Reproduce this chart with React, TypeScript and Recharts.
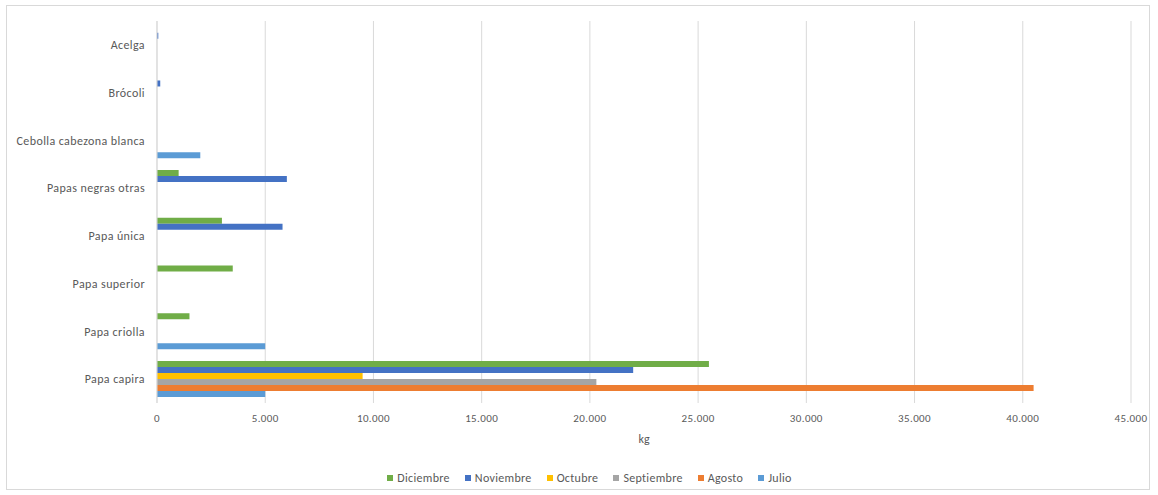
import React from 'react';
import { BarChart, Bar, XAxis, YAxis, CartesianGrid, Legend } from 'recharts';

const categories = [
  'Acelga',
  'Brócoli',
  'Cebolla cabezona blanca',
  'Papas negras otras',
  'Papa única',
  'Papa superior',
  'Papa criolla',
  'Papa capira',
];
const julio = [null, null, 2000, null, null, null, 5000, 5000];
const agosto = [null, null, null, null, null, null, null, 40500];
const septiembre = [null, null, null, null, null, null, null, 20300];
const octubre = [null, null, null, null, null, null, null, 9500];
const noviembre = [60, 150, null, 6000, 5800, null, null, 22000];
const diciembre = [null, null, null, 1000, 3000, 3500, 1500, 25500];
const xTicks = [0, 5000, 10000, 15000, 20000, 25000, 30000, 35000, 40000, 45000];

const series = [
  { key: 'Diciembre', color: '#70AD47' },
  { key: 'Noviembre', color: '#4472C4' },
  { key: 'Octubre', color: '#FFC000' },
  { key: 'Septiembre', color: '#A5A5A5' },
  { key: 'Agosto', color: '#ED7D31' },
  { key: 'Julio', color: '#5B9BD5' },
];

const data = categories.map((name, i) => ({
  name,
  Julio: julio[i],
  Agosto: agosto[i],
  Septiembre: septiembre[i],
  Octubre: octubre[i],
  Noviembre: noviembre[i],
  Diciembre: diciembre[i],
}));

const fmt = (v: number) => String(v).replace(/\B(?=(\d{3})+(?!\d))/g, '.');
const FONT = "Carlito, Calibri, 'Liberation Sans', Arial, sans-serif";

const CategoryTick = (props: any) => {
  const { x, y, payload } = props;
  return (
    <text
      x={x}
      y={y}
      dy="0.35em"
      textAnchor="end"
      fill="#595959"
      fontSize={12}
      letterSpacing={0.4}
      fontFamily={FONT}
    >
      {payload.value}
    </text>
  );
};

const ValueTick = (props: any) => {
  const { x, y, payload } = props;
  return (
    <text
      x={x}
      y={y}
      dy="0.71em"
      textAnchor="middle"
      fill="#595959"
      fontSize={11}
      letterSpacing={0.4}
      fontFamily={FONT}
    >
      {fmt(payload.value)}
    </text>
  );
};

const LegendContent = () => (
  <div
    style={{
      display: 'flex',
      justifyContent: 'center',
      alignItems: 'center',
      gap: 15,
      height: 20,
      paddingLeft: 48,
      fontFamily: FONT,
      fontSize: 12,
      letterSpacing: 0.3,
      color: '#595959',
    }}
  >
    {series.map((s) => (
      <div key={s.key} style={{ display: 'flex', alignItems: 'center', gap: 4 }}>
        <div style={{ width: 6, height: 6, background: s.color }} />
        <span>{s.key}</span>
      </div>
    ))}
  </div>
);

export default function App() {
  return (
    <div style={{ position: 'absolute', left: 0, top: 0, width: 1158, height: 495, background: '#fff' }}>
      <div
        style={{
          position: 'absolute',
          left: 6,
          top: 5,
          width: 1144,
          height: 485,
          border: '1px solid #D9D9D9',
          boxSizing: 'border-box',
        }}
      />
      <div style={{ position: 'absolute', left: 0, top: 0 }}>
        <BarChart
          width={1158}
          height={495}
          data={data}
          layout="vertical"
          margin={{ top: 21, right: 27, bottom: 7, left: 0 }}
          barCategoryGap="12%"
          barGap={0}
        >
          <CartesianGrid horizontal={false} stroke="#D9D9D9" />
          <XAxis
            type="number"
            domain={[0, 45000]}
            ticks={xTicks}
            axisLine={false}
            tickLine={false}
            tickMargin={5}
            height={65}
            tick={<ValueTick />}
            label={{ value: 'kg', position: 'insideBottom', offset: 25, fill: '#595959', fontSize: 12, fontFamily: FONT }}
          />
          <YAxis
            type="category"
            dataKey="name"
            width={157}
            axisLine={{ stroke: '#D9D9D9' }}
            tickLine={false}
            tickMargin={6}
            interval={0}
            tick={<CategoryTick />}
          />
          <Legend verticalAlign="bottom" content={<LegendContent />} />
          {series.map((s) => (
            <Bar key={s.key} dataKey={s.key} fill={s.color} isAnimationActive={false} />
          ))}
        </BarChart>
      </div>
    </div>
  );
}
